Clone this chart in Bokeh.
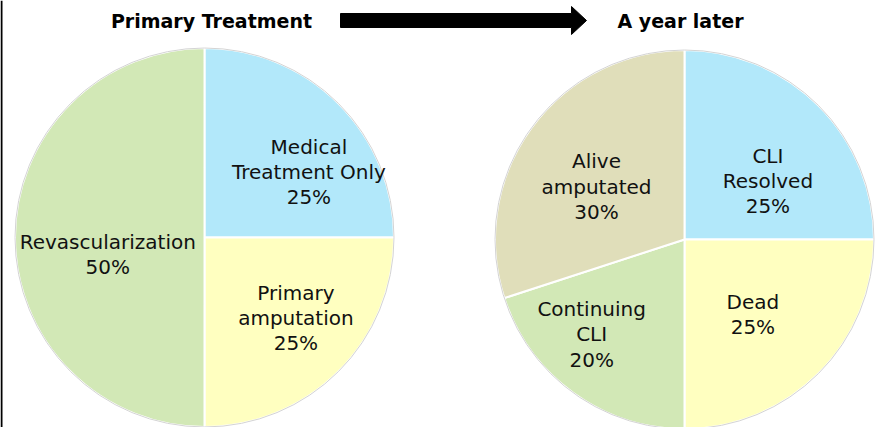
import math
from bokeh.plotting import figure
from bokeh.models import Range1d, ColumnDataSource, Span
from bokeh.core.properties import value
from bokeh.embed import file_html
from bokeh.resources import INLINE

# ---- data ----
left_title = "Primary Treatment"
left_labels = ["Medical\nTreatment Only", "Primary\namputation", "Revascularization"]
left_values = [25, 25, 50]
left_colors = ["#b2e8fa", "#ffffc0", "#d2e8b6"]

right_title = "A year later"
right_labels = ["CLI\nResolved", "Dead", "Continuing\nCLI", "Alive\namputated"]
right_values = [25, 25, 20, 30]
right_colors = ["#b2e8fa", "#ffffc0", "#d2e8b6", "#e0deba"]

# ---- layout (page pixel coordinates, y measured upward from window bottom) ----
W, H = 881, 427
FONT = "DejaVu Sans"
left_center = (204, H - 237)
right_center = (684, H - 239)
radius = 189.5
label_frac = 0.6
left_nudges = [(24, -15), (11, 0), (17, -17)]
right_nudges = [(3, -22), (-12, 5), (-26, -3), (4, -14)]

p = figure(width=W, height=H, output_backend="svg", toolbar_location=None,
           x_range=Range1d(0, W), y_range=Range1d(0, H),
           min_border=0, outline_line_color=None)
p.axis.visible = False
p.grid.visible = False
p.background_fill_color = "white"
p.border_fill_color = "white"


def draw_pie(center, labels, values, colors, nudges):
    total = float(sum(values))
    starts, ends, lx, ly, texts = [], [], [], [], []
    a = math.pi / 2
    for lab, v, (nx, ny) in zip(labels, values, nudges):
        span = v / total * 2 * math.pi
        s, e = a, a - span
        starts.append(s)
        ends.append(e)
        mid = (s + e) / 2
        lx.append(center[0] + label_frac * radius * math.cos(mid) + nx)
        ly.append(center[1] + label_frac * radius * math.sin(mid) + ny)
        texts.append(f"{lab}\n{int(round(v / total * 100))}%")
        a = e
    src = ColumnDataSource(dict(x=[center[0]] * len(values), y=[center[1]] * len(values),
                                start=starts, end=ends, color=colors))
    p.wedge(x="x", y="y", radius=radius, start_angle="start", end_angle="end",
            direction="clock", fill_color="color", line_color="white", line_width=2,
            source=src)
    p.scatter(x=[center[0]], y=[center[1]], size=2 * radius, marker="circle",
              fill_color=None, line_color="#d4d4d4", line_width=1)
    lsrc = ColumnDataSource(dict(x=lx, y=ly, t=texts))
    p.text(x="x", y="y", text="t", source=lsrc, text_align="center",
           text_baseline="middle", text_font=value(FONT), text_font_size="20px",
           text_line_height=1.05, text_color="#111111")


draw_pie(left_center, left_labels, left_values, left_colors, left_nudges)
draw_pie(right_center, right_labels, right_values, right_colors, right_nudges)

# titles
p.text(x=[211, 680], y=[H - 20, H - 20], text=[left_title, right_title],
       text_align="center", text_baseline="middle", text_font=value(FONT),
       text_font_size="19px", text_font_style="bold", text_color="black")

# arrow between titles (decoration)
ay = H - 20
p.patch(x=[340, 571, 571, 586, 571, 571, 340],
        y=[ay + 7, ay + 7, ay + 14, ay, ay - 14, ay - 7, ay - 7],
        fill_color="black", line_color="black")

# thin dark border at the left edge
p.add_layout(Span(location=1, dimension="height", line_color="black", line_width=2))

open("out.html", "w").write(file_html(p, INLINE))
